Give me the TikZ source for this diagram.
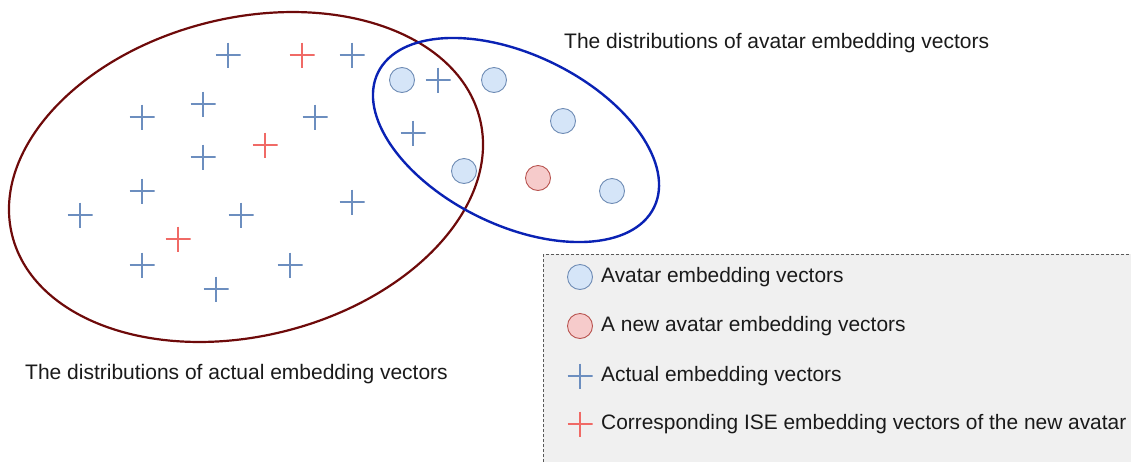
\documentclass[tikz,border=0pt]{standalone}
\usepackage{fontspec}
\setmainfont{Liberation Sans}
\definecolor{ptblue}{HTML}{6C8EBF}
\definecolor{ptred}{HTML}{F06A66}
\definecolor{cfill}{HTML}{D5E5F8}
\definecolor{rfill}{HTML}{F6CBCB}
\definecolor{rstroke}{HTML}{B85450}
\definecolor{ellred}{HTML}{6E0A0A}
\definecolor{ellblue}{HTML}{0A22B4}
\definecolor{legfill}{HTML}{F0F0F0}
\definecolor{txt}{HTML}{1A1A1A}
\begin{document}
\begin{tikzpicture}[x=1pt,y=1pt,
  plusmark/.style={minimum size=25pt, inner sep=0pt, outer sep=0pt,
    path picture={\draw[#1, line width=2.1pt]
      (path picture bounding box.north) -- (path picture bounding box.south)
      (path picture bounding box.west) -- (path picture bounding box.east);}},
  bdot/.style={circle, minimum size=25pt, inner sep=0pt, draw=ptblue!85!gray, line width=0.9pt, fill=cfill},
  rdot/.style={circle, minimum size=25pt, inner sep=0pt, draw=rstroke, line width=0.9pt, fill=rfill},
  legtext/.style={anchor=west, inner sep=0pt, text=txt, font=\fontsize{20.9}{24}\selectfont},
  titletext/.style={anchor=west, inner sep=0pt, text=txt, font=\fontsize{21.0}{25}\selectfont}]
\useasboundingbox (0,0) rectangle (1131,-461);
% legend box
\draw[draw=black!65, fill=legfill, line width=0.9pt, dash pattern=on 3pt off 2pt] (543,-254) rectangle (1140,-470);
% ellipses
\draw[ellred, line width=2.2pt, rotate around={14:(246,-177)}] (246,-177) ellipse [x radius=241, y radius=159];
\draw[ellblue, line width=2.4pt, rotate around={-26:(516,-140)}] (516,-140) ellipse [x radius=153.6, y radius=85.3];
% blue pluses
\node[plusmark=ptblue] (p1) at (228,-55) {};
\node[plusmark=ptblue] (p2) at (352,-55) {};
\node[plusmark=ptblue] (p3) at (142,-117) {};
\node[plusmark=ptblue] (p4) at (203,-104) {};
\node[plusmark=ptblue] (p5) at (315,-117) {};
\node[plusmark=ptblue] (p6) at (203,-157) {};
\node[plusmark=ptblue] (p7) at (142,-191) {};
\node[plusmark=ptblue] (p8) at (80,-215) {};
\node[plusmark=ptblue] (p9) at (241,-215) {};
\node[plusmark=ptblue] (p10) at (352,-202) {};
\node[plusmark=ptblue] (p11) at (142,-265) {};
\node[plusmark=ptblue] (p12) at (290,-265) {};
\node[plusmark=ptblue] (p13) at (216,-289) {};
\node[plusmark=ptblue] (p14) at (438,-80) {};
\node[plusmark=ptblue] (p15) at (413,-133) {};
% red pluses
\node[plusmark=ptred] (r1) at (302,-55) {};
\node[plusmark=ptred] (r2) at (265,-145) {};
\node[plusmark=ptred] (r3) at (178,-239) {};
% circles
\node[bdot] (c1) at (402,-80) {};
\node[bdot] (c2) at (494,-80) {};
\node[bdot] (c3) at (563,-121) {};
\node[bdot] (c4) at (464,-171) {};
\node[bdot] (c5) at (612,-191) {};
\node[rdot] (c6) at (538,-178) {};
% titles
\node[titletext] (t1) at (564,-43) {The distributions of avatar embedding vectors};
\node[titletext] (t2) at (25,-374) {The distributions of actual embedding vectors};
% legend
\node[bdot] (lm1) at (580,-277) {};
\node[rdot] (lm2) at (580,-326) {};
\node[plusmark=ptblue] (lm3) at (580,-376) {};
\node[plusmark=ptred] (lm4) at (580,-424) {};
\node[legtext] (l1) at (601,-277) {Avatar embedding vectors};
\node[legtext] (l2) at (601,-326) {A new avatar embedding vectors};
\node[legtext] (l3) at (601,-376) {Actual embedding vectors};
\node[legtext] (l4) at (601,-424) {Corresponding ISE embedding vectors of the new avatar};
\end{tikzpicture}
\end{document}
